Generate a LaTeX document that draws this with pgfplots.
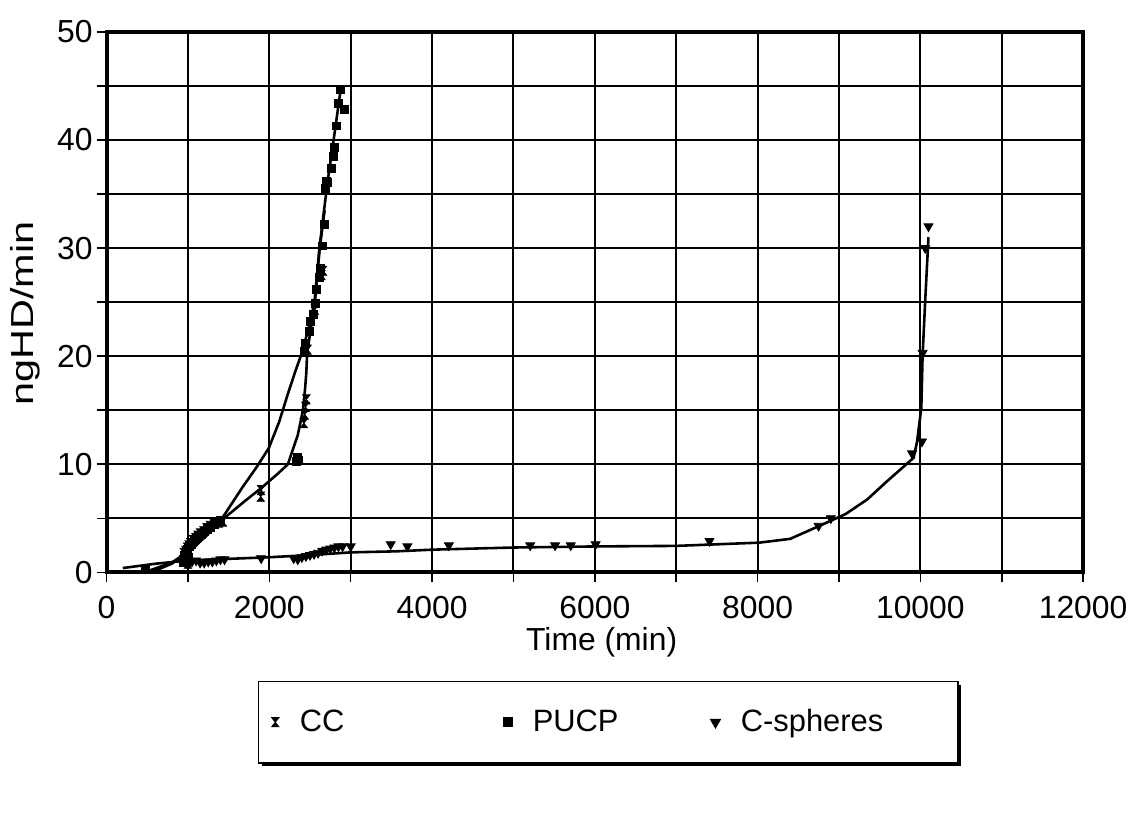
\documentclass[border=0pt]{standalone}
\usepackage{fontspec}
\setmainfont{Liberation Sans}
\usepackage{pgfplots}
\pgfplotsset{compat=1.18}
\usetikzlibrary{shadows}
\pgfdeclareplotmark{hourglass}{%
 \pgfpathmoveto{\pgfqpoint{-0.8\pgfplotmarksize}{\pgfplotmarksize}}%
 \pgfpathlineto{\pgfqpoint{0.8\pgfplotmarksize}{\pgfplotmarksize}}%
 \pgfpathlineto{\pgfqpoint{-0.8\pgfplotmarksize}{-\pgfplotmarksize}}%
 \pgfpathlineto{\pgfqpoint{0.8\pgfplotmarksize}{-\pgfplotmarksize}}%
 \pgfpathclose
 \pgfusepathqfillstroke}
\begin{document}
\begin{tikzpicture}
\begin{axis}[
  scale only axis,
  width=490.5pt, height=271.5pt,
  xmin=0, xmax=12000, ymin=0, ymax=50,
  xtick={0,1000,...,12000},
  xticklabels={0,,2000,,4000,,6000,,8000,,10000,,12000},
  ytick={0,5,...,50},
  yticklabels={0,,10,,20,,30,,40,,50},
  scaled x ticks=false,
  tick pos=left, tick align=outside,
  major tick length=5pt,
  tick style={line width=0.8pt, black},
  grid=major,
  grid style={line width=1pt, black},
  axis line style={line width=2pt},
  /pgf/number format/assume math mode=true,
  tick label style={font=\fontsize{16}{19}\selectfont},
  xticklabel style={yshift=-3.5pt},
  yticklabel style={xshift=1.5pt},
  label style={font=\fontsize{16}{19}\selectfont},
  xlabel={Time (min)},
  ylabel={\scalebox{1.3}[1.0]{ngHD/min}},
  xlabel style={at={(axis description cs:0.507,-0.129)}, anchor=center},
  ylabel style={at={(axis description cs:-0.083,0.479)}, anchor=center},
  legend columns=3,
  legend style={at={(axis description cs:0.5138,-0.2772)}, anchor=center,
    draw=black, line width=0.8pt, fill=white,
    drop shadow={shadow xshift=1.5pt, shadow yshift=-1.5pt, fill=black, opacity=1},
    inner ysep=12pt, inner xsep=6.5pt,
    font=\fontsize{15.5}{18}\selectfont,
    /tikz/every odd column/.append style={column sep=8.5pt}},
  legend cell align=left,
]
% CC markers
\addplot[only marks, mark=hourglass, mark size=2.3pt, black, line width=0.4pt] coordinates {
(950,1.8)(970,2.0)(990,2.3)(1010,2.5)(1030,2.7)(1060,3.0)(1090,3.2)(1120,3.4)
(1150,3.6)(1190,3.8)(1230,4.1)(1270,4.3)(1320,4.5)(1380,4.6)(1430,4.7)(980,1.2)(1000,0.8)
(1895,7.0)(1900,7.6)(2425,13.8)(2435,14.6)(2445,15.3)(2455,16.0)(2470,20.6)
(2560,24.3)(2640,27.5)(2660,27.9)
};
\addlegendentry{\makebox[100.5pt][l]{CC}}
% PUCP markers
\addplot[only marks, mark=square*, mark size=2pt, black] coordinates {
(480,0.3)
(940,1.2)(960,1.6)(975,1.9)(990,2.1)(1005,1.4)(1020,2.4)(1040,2.6)(1060,2.8)
(1080,3.0)(1100,3.1)(1130,3.3)(1160,3.5)(1200,3.8)(1240,4.0)(1280,4.2)(1320,4.4)
(1360,4.6)(1400,4.8)(950,0.9)(1000,1.0)
(2330,10.3)(2350,10.6)(2360,10.4)
(2432,20.4)(2448,21.2)(2493,22.3)(2510,23.2)(2546,23.9)(2566,24.9)(2583,26.2)
(2615,27.3)(2632,28.1)(2656,30.2)(2680,32.2)(2690,35.5)(2705,36.2)(2717,36.1)
(2758,37.4)(2787,38.5)(2799,39.3)(2819,41.3)(2848,43.4)(2868,44.7)(2922,42.8)
};
\addlegendentry{\makebox[87.5pt][l]{PUCP}}
% C-spheres markers
\addplot[only marks, mark=triangle*, mark options={rotate=180}, mark size=2.6pt, black] coordinates {
(950,1.1)(980,0.9)(1000,1.2)(1050,1.0)(1100,1.1)(1150,0.9)(1200,0.9)(1250,1.0)
(1300,1.0)(1350,1.1)(1400,1.2)(1450,1.2)(1900,1.3)
(2300,1.3)(2350,1.2)(2400,1.4)(2450,1.5)(2500,1.6)(2550,1.7)(2600,1.8)(2650,2.0)
(2700,2.1)(2750,2.2)(2800,2.3)(2850,2.4)(2900,2.4)(3000,2.4)
(3492,2.6)(3697,2.4)(4207,2.5)(5206,2.5)(5512,2.5)(5704,2.5)(6010,2.6)(7409,2.9)
(8750,4.3)(8900,5.0)(9898,11.0)(10020,12.1)(10028,20.3)(10060,30)(10100,32)
};
\addlegendentry{\makebox[100.5pt][l]{C-spheres}}
% trend lines
\addplot[black, line width=1.3pt, forget plot] coordinates {
(550,0)(800,0.8)(1000,1.8)(1200,3.2)(1411,4.8)(1700,6.6)(1901,7.8)(2100,9.1)
(2228,10.0)(2350,12.7)(2411,14.9)(2440,17)(2455,18.5)(2465,20.3)(2520,23)(2560,25)
(2620,30)(2680,33.5)
};
\addplot[black, line width=1.3pt, forget plot] coordinates {
(500,0.1)(800,0.9)(1000,1.9)(1200,3.3)(1420,5.0)(1664,7.8)(1850,9.8)(1994,11.5)(2120,13.9)(2228,16.5)
(2320,18.6)(2400,20.3)(2480,22.5)(2555,25.0)(2616,30.0)(2717,36.2)(2800,40.5)(2870,44.3)
};
\addplot[black, line width=1.3pt, forget plot] coordinates {
(200,0.4)(600,0.8)(1000,1.1)(1500,1.25)(2000,1.4)(2500,1.6)(3000,1.85)(3574,1.95)
(4000,2.1)(5000,2.3)(6000,2.4)(7000,2.45)(8021,2.75)(8400,3.1)(8700,4.1)(9083,5.4)
(9348,6.75)(9572,8.3)(9918,10.6)(9960,12.1)(10012,15.2)(10028,20.1)(10061,25.3)(10100,31)
};
\coordinate (bbl) at (rel axis cs:-0.1091,-0.4567);
\coordinate (btr) at (rel axis cs:1.0469,1.0589);
\end{axis}
\path (bbl) rectangle (btr);
\end{tikzpicture}
\end{document}
